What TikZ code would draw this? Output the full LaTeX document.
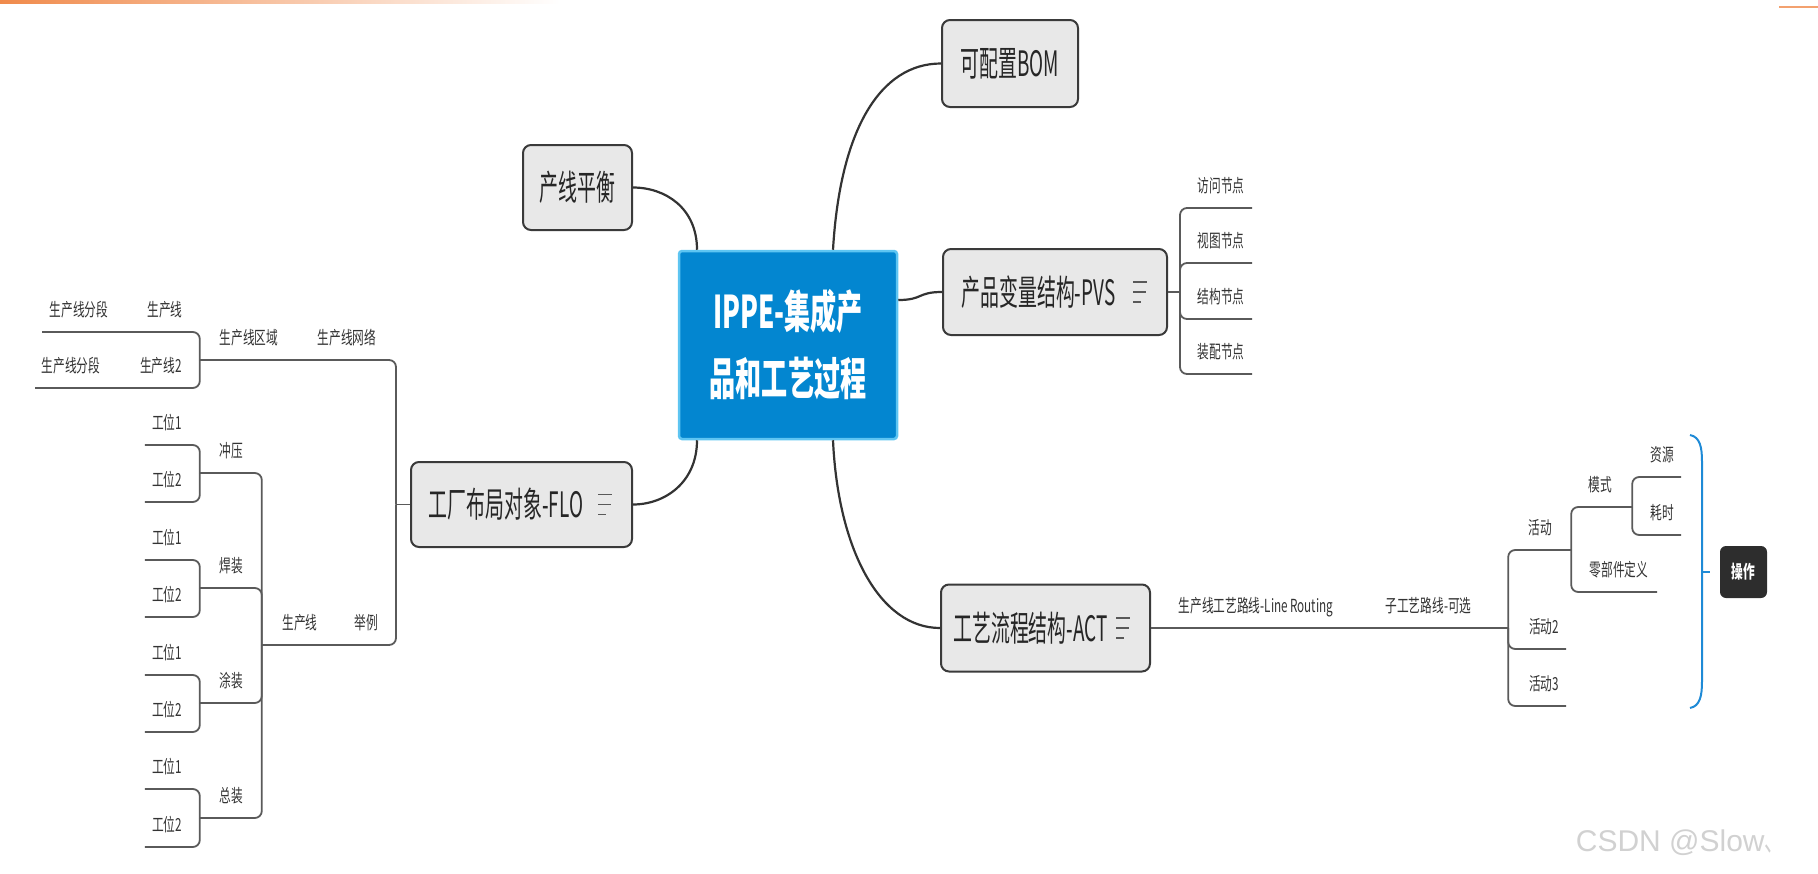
\documentclass[tikz,border=0pt]{standalone}
\usepackage{fontspec}
\setmainfont{Noto Sans CJK SC}
\newfontfamily\corefont{Noto Sans CJK SC}[FakeStretch=0.58]
\newfontfamily\topicfont{Noto Sans CJK SC}[FakeStretch=0.54]
\newfontfamily\subfont{Noto Sans CJK SC}[FakeStretch=0.65]
\newfontfamily\markfont{Liberation Sans}
\usetikzlibrary{positioning}

\definecolor{corefill}{HTML}{0386D0}
\definecolor{coreline}{HTML}{5EC5F2}
\definecolor{topicfill}{HTML}{E8E8E8}
\definecolor{topicline}{HTML}{3A3A3A}
\definecolor{treeline}{HTML}{5A5A5A}
\definecolor{sumblue}{HTML}{1E8AD6}
\definecolor{opfill}{HTML}{2D2D2D}
\definecolor{bar}{HTML}{F08A4B}

\tikzset{
    core/.style={draw=coreline, fill=corefill, line width=2.5pt, rounded corners=3pt,
        text=white, align=center, inner sep=0pt,
        font=\corefont\bfseries\fontsize{45}{67}\selectfont},
    topic/.style={draw=topicline, fill=topicfill, line width=2pt, rounded corners=8pt,
        text=black!85, inner sep=0pt, font=\topicfont\fontsize{35}{40}\selectfont},
    sub/.style={anchor=south, inner sep=0pt, text height=14pt, text depth=15pt,
        text=black!80, font=\subfont\fontsize{18}{20}\selectfont},
    op/.style={fill=opfill, rounded corners=6pt, text=white, inner sep=0pt,
        font=\subfont\bfseries\fontsize{18}{20}\selectfont},
    branch/.style={draw=black!80, line width=2.2pt},
    tline/.style={draw=treeline, line width=1.8pt, rounded corners=7pt},
    noteline/.style={draw=black!65, line width=1.8pt},
    summary/.style={draw=sumblue, line width=2pt},
}

% three-line note mark at the right end of a topic
\newcommand\notes[1]{%
    \draw[noteline] ([xshift=-35pt,yshift=10pt]#1.east) -- ++(14,0);
    \draw[noteline] ([xshift=-35pt]#1.east) -- ++(13,0);
    \draw[noteline] ([xshift=-35pt,yshift=-10pt]#1.east) -- ++(8,0);}

\begin{document}
\begin{tikzpicture}[x=1pt, y=-1pt]
    \useasboundingbox (0,0) rectangle (1818,873);
    \shade[left color=bar, right color=white] (0,0) rectangle (560,3);
    \fill[bar!80] (1779,6) rectangle (1818,8);

    % centre and main topics
    \node[core, minimum width=218pt, minimum height=188pt] (core) at (788,345) {IPPE-集成产\\品和工艺过程};
    \node[topic, minimum width=109pt, minimum height=85pt] (pl) at (577.5,187.5) {产线平衡};
    \node[topic, minimum width=221pt, minimum height=85pt] (flo) at (521.5,504.5) {工厂布局对象-FLO\kern31pt};
    \node[topic, minimum width=136pt, minimum height=87pt] (bom) at (1010,63.5) {可配置BOM};
    \node[topic, minimum width=224pt, minimum height=86pt] (pvs) at (1055,292) {产品变量结构-PVS\kern33pt};
    \node[topic, minimum width=209pt, minimum height=87pt] (act) at (1045.5,628) {工艺流程结构-ACT\kern30pt};
    \notes{flo}
    \notes{pvs}
    \notes{act}

    \coordinate (core-pl) at ([xshift=-91pt]core.north);
    \coordinate (core-flo) at ([xshift=-91pt]core.south);
    \coordinate (core-bom) at ([xshift=45pt]core.north);
    \coordinate (core-act) at ([xshift=45pt]core.south);
    \coordinate (core-pvs) at ([yshift=45pt]core.east);
    \draw[branch] (core-pl) .. controls +(0,-42) and +(32,0) .. (pl.east);
    \draw[branch] (core-flo) .. controls +(0,42) and +(32,0) .. (flo.east);
    \draw[branch] (core-bom) .. controls (840,130) and (880,63.5) .. (bom.west);
    \draw[branch] (core-act) .. controls (838,550) and (880,628) .. (act.west);
    \draw[branch] (core-pvs) .. controls +(25,0) and +(-25,0) .. (pvs.west);

    % factory layout (left)
    \node[sub, minimum width=70pt] (net) at (347,360) {生产线网络};
    \node[sub, minimum width=98pt] (area) at (249,360) {生产线区域};
    \node[sub, minimum width=54pt] (line1) at (165,332) {生产线};
    \node[sub, minimum width=74pt] (seg1) at (79,332) {生产线分段};
    \node[sub, minimum width=58pt] (line2) at (161,388) {生产线2};
    \node[sub, minimum width=72pt] (seg2) at (71,388) {生产线分段};
    \node[sub, minimum width=36pt] (ex) at (366,645) {举例};
    \node[sub, minimum width=76pt] (pline) at (300,645) {生产线};
    \node[sub, minimum width=62pt] (st1) at (231,473) {冲压};
    \node[sub, minimum width=62pt] (st2) at (231,588) {焊装};
    \node[sub, minimum width=62pt] (st3) at (231,703) {涂装};
    \node[sub, minimum width=62pt] (st4) at (231,818) {总装};
    \node[sub, minimum width=44pt] (ws1a) at (167,445) {工位1};
    \node[sub, minimum width=44pt] (ws1b) at (167,502) {工位2};
    \node[sub, minimum width=44pt] (ws2a) at (167,560) {工位1};
    \node[sub, minimum width=44pt] (ws2b) at (167,617) {工位2};
    \node[sub, minimum width=44pt] (ws3a) at (167,675) {工位1};
    \node[sub, minimum width=44pt] (ws3b) at (167,732) {工位2};
    \node[sub, minimum width=44pt] (ws4a) at (167,789) {工位1};
    \node[sub, minimum width=44pt] (ws4b) at (167,847) {工位2};

    \coordinate (flo-fork) at ([xshift=-14pt]flo.west);
    \draw[tline] (flo.west) -- (flo-fork);
    \draw[tline] (flo-fork) |- (net.south west);
    \draw[tline] (flo-fork) |- (ex.south west);
    \draw[tline] (net.south west) -- (area.south west);
    \draw[tline] (area.south west) |- (line1.south west);
    \draw[tline] (area.south west) |- (line2.south west);
    \draw[tline] (line1.south west) -- (seg1.south west);
    \draw[tline] (line2.south west) -- (seg2.south west);
    \draw[tline] (ex.south west) -- (pline.south west);
    \draw[tline] (pline.south west) |- (st1.south west);
    \draw[tline] (pline.south west) |- (st2.south west);
    \draw[tline] (pline.south west) |- (st3.south west);
    \draw[tline] (pline.south west) |- (st4.south west);
    \draw[tline] (st1.south west) |- (ws1a.south west);
    \draw[tline] (st1.south west) |- (ws1b.south west);
    \draw[tline] (st2.south west) |- (ws2a.south west);
    \draw[tline] (st2.south west) |- (ws2b.south west);
    \draw[tline] (st3.south west) |- (ws3a.south west);
    \draw[tline] (st3.south west) |- (ws3b.south west);
    \draw[tline] (st4.south west) |- (ws4a.south west);
    \draw[tline] (st4.south west) |- (ws4b.south west);

    % product variant structure
    \node[sub, minimum width=62pt] (acc) at (1221,208) {访问节点};
    \node[sub, minimum width=62pt] (view) at (1221,263) {视图节点};
    \node[sub, minimum width=62pt] (struct) at (1221,319) {结构节点};
    \node[sub, minimum width=62pt] (asm) at (1221,374) {装配节点};
    \coordinate (pvs-fork) at ([xshift=12pt]pvs.east);
    \draw[tline] (pvs.east) -- (pvs-fork);
    \draw[tline] (pvs-fork) |- (acc.south east);
    \draw[tline] (pvs-fork) |- (view.south east);
    \draw[tline] (pvs-fork) |- (struct.south east);
    \draw[tline] (pvs-fork) |- (asm.south east);

    % process structure
    \node[sub, minimum width=192pt] (route) at (1256,628) {生产线工艺路线-Line Routing};
    \node[sub, minimum width=159pt] (subr) at (1428.5,628) {子工艺路线-可选};
    \node[sub, minimum width=62pt] (act1) at (1540,550) {活动};
    \node[sub, minimum width=44pt] (act2) at (1544,649) {活动2};
    \node[sub, minimum width=44pt] (act3) at (1544,706) {活动3};
    \node[sub, minimum width=64pt] (mode) at (1600,507) {模式};
    \node[sub, minimum width=76pt] (part) at (1619,592) {零部件定义};
    \node[sub, minimum width=38pt] (res) at (1662,477) {资源};
    \node[sub, minimum width=38pt] (time) at (1662,535) {耗时};
    \draw[tline] (act.east) -- (route.south east);
    \draw[tline] (route.south east) -- (subr.south east);
    \draw[tline] (subr.south east) |- (act1.south east);
    \draw[tline] (subr.south east) |- (act2.south east);
    \draw[tline] (subr.south east) |- (act3.south east);
    \draw[tline] (act1.south east) |- (mode.south east);
    \draw[tline] (act1.south east) |- (part.south east);
    \draw[tline] (mode.south east) |- (res.south east);
    \draw[tline] (mode.south east) |- (time.south east);

    % summary
    \node[op, minimum width=47pt, minimum height=52pt] (opr) at (1743.5,572) {操作};
    \coordinate (sum-top) at (1690,435);
    \coordinate (sum-mid) at (1702,572);
    \coordinate (sum-bot) at (1690,708);
    \draw[summary] (sum-top) .. controls (1700,437) and (1702,447) .. (1702,462)
        -- (1702,681) .. controls (1702,696) and (1700,706) .. (sum-bot);
    \draw[summary, shorten >=10pt] (sum-mid) -- (opr.west);

    \node[text=black!18, font=\markfont\fontsize{30}{32}\selectfont] (mark) at (1680,843) {CSDN @Slow{\subfont 、}};
\end{tikzpicture}
\end{document}
